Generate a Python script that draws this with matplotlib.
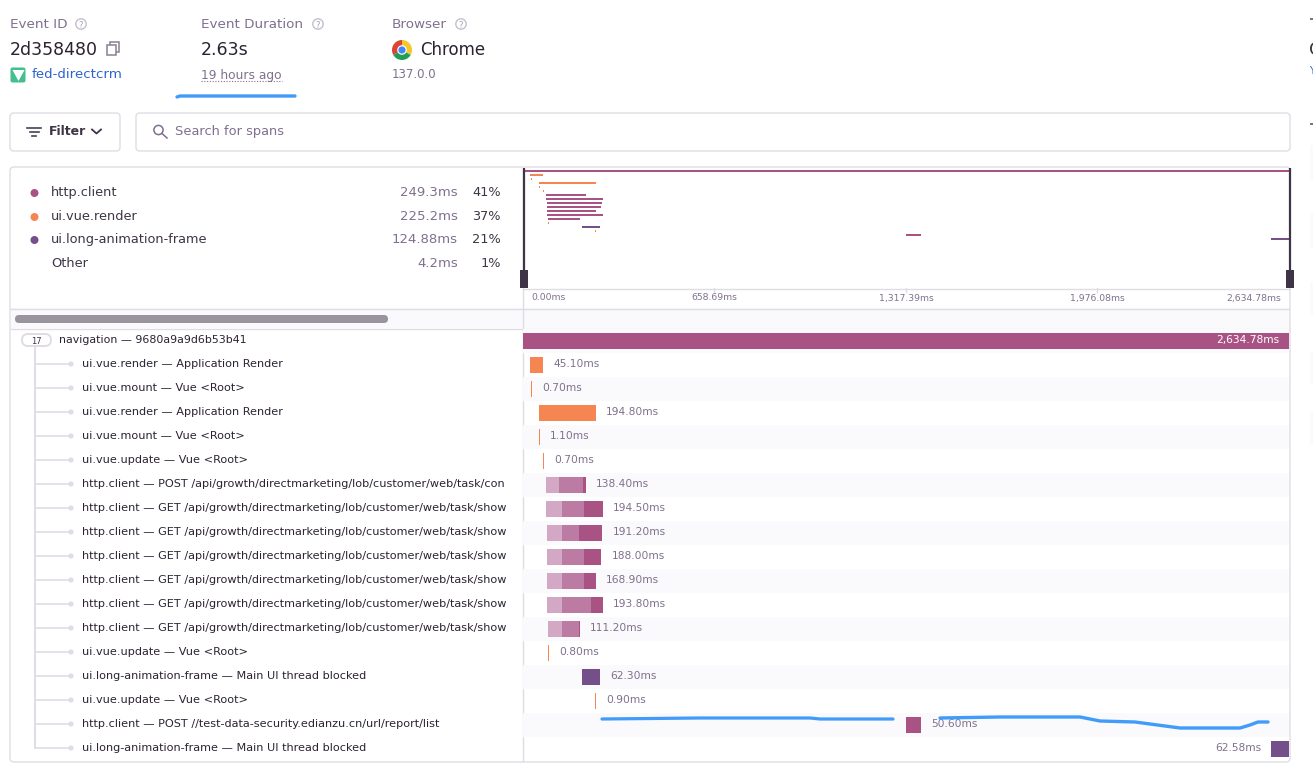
import matplotlib
matplotlib.use("Agg")
import matplotlib.pyplot as plt
from matplotlib.patches import FancyBboxPatch, Rectangle, Circle, Wedge, Polygon

W, H = 1313, 773
TOTAL_MS = 2634.78

# ---- data ----
breakdown_names = ["http.client", "ui.vue.render", "ui.long-animation-frame", "Other"]
breakdown_times = ["249.3ms", "225.2ms", "124.88ms", "4.2ms"]
breakdown_pcts = ["41%", "37%", "21%", "1%"]

span_labels = [
    "ui.vue.render — Application Render",
    "ui.vue.mount — Vue <Root>",
    "ui.vue.render — Application Render",
    "ui.vue.mount — Vue <Root>",
    "ui.vue.update — Vue <Root>",
    "http.client — POST /api/growth/directmarketing/lob/customer/web/task/con",
    "http.client — GET /api/growth/directmarketing/lob/customer/web/task/show",
    "http.client — GET /api/growth/directmarketing/lob/customer/web/task/show",
    "http.client — GET /api/growth/directmarketing/lob/customer/web/task/show",
    "http.client — GET /api/growth/directmarketing/lob/customer/web/task/show",
    "http.client — GET /api/growth/directmarketing/lob/customer/web/task/show",
    "http.client — GET /api/growth/directmarketing/lob/customer/web/task/show",
    "ui.vue.update — Vue <Root>",
    "ui.long-animation-frame — Main UI thread blocked",
    "ui.vue.update — Vue <Root>",
    "http.client — POST //test-data-security.edianzu.cn/url/report/list",
    "ui.long-animation-frame — Main UI thread blocked",
]
span_ops = ["r", "r", "r", "r", "r", "h", "h", "h", "h", "h", "h", "h", "r", "l", "r", "h", "l"]
span_starts = [24, 28, 55, 55, 69, 79, 79, 82, 82, 82, 82, 86, 86, 203, 248, 1317.5, 2572.2]
span_durs = [45.10, 0.70, 194.80, 1.10, 0.70, 138.40, 194.50, 191.20, 188.00, 168.90, 193.80,
             111.20, 0.80, 62.30, 0.90, 50.60, 62.58]
span_light = [0, 0, 0, 0, 0, 45, 55, 52, 52, 52, 52, 48, 0, 0, 0, 0, 0]
span_mid = [0, 0, 0, 0, 0, 82, 76, 58, 76, 76, 100, 58, 0, 0, 0, 0, 0]

axis_ticks = [0.0, 658.69, 1317.39, 1976.08, 2634.78]
axis_labels = ["0.00ms", "658.69ms", "1,317.39ms", "1,976.08ms", "2,634.78ms"]

stroke1_x = [177, 180, 295]
stroke1_y = [97, 96, 96]
stroke2_x = [602, 700, 810, 820, 893]
stroke2_y = [719, 718, 718, 719, 719]
stroke3_x = [940, 1000, 1080, 1090, 1100, 1135, 1180, 1240, 1250, 1258, 1268]
stroke3_y = [718, 717, 717, 719, 721, 722, 728, 728, 725, 722, 722]

# ---- colours ----
PINK, ORANGE, PURPLE = "#a95385", "#f58651", "#754f8a"
PINK_MID, PINK_LIGHT = "#bc7ba2", "#d3a8c4"
INK, MUTED, LINE, TINT = "#2b2233", "#80708f", "#e0dce5", "#faf9fb"
DARK = "#3e3446"
BLUE = "#409cf8"
op_color = {"r": ORANGE, "h": PINK, "l": PURPLE}
plt.rcParams["font.family"] = ["DejaVu Sans"]

fig = plt.figure(figsize=(W / 100, H / 100), dpi=100, facecolor="white")


def sub_axes(x0, y0, x1, y1, **kw):
    ax = fig.add_axes([x0 / W, 1 - y1 / H, (x1 - x0) / W, (y1 - y0) / H], **kw)
    ax.axis("off")
    ax.patch.set_alpha(0)
    return ax


# page layer in screen pixels
pg = sub_axes(0, 0, W, H)
pg.set_xlim(0, W)
pg.set_ylim(H, 0)


def T(x, y, s, size=8.3, color=INK, ha="left", weight="normal", zorder=6, ax=pg):
    return ax.text(x, y - 1, s, fontsize=size, color=color, ha=ha, va="center_baseline",
                   fontweight=weight, zorder=zorder)


def round_box(x0, y0, x1, y1, r=4, ec=LINE, fc="white", lw=1.0, z=1):
    pg.add_patch(FancyBboxPatch((x0 + r, y0 + r), x1 - x0 - 2 * r, y1 - y0 - 2 * r,
                                boxstyle=f"round,pad={r},rounding_size={r}",
                                ec=ec, fc=fc, lw=lw, zorder=z))


def help_icon(cx, cy):
    pg.add_patch(Circle((cx, cy), 5.2, fc="white", ec="#c5bfcd", lw=1.0, zorder=5))
    T(cx, cy + 1, "?", size=6, color="#a89fb3", ha="center")


# ---- header ----
T(10, 23.5, "Event ID", size=9.7, color=MUTED)
help_icon(81, 24)
T(10, 49, "2d358480", size=12.5, color=INK)
pg.add_patch(Rectangle((110, 42), 9, 10, fc="white", ec="#8a7f96", lw=1.1, zorder=5))
pg.add_patch(Rectangle((107, 45), 9, 9.5, fc="white", ec="#8a7f96", lw=1.1, zorder=5))
pg.add_patch(FancyBboxPatch((11.5, 68.5), 13, 13, boxstyle="round,pad=1,rounding_size=2",
                            fc="#41c08e", ec="none", zorder=5))
pg.add_patch(Polygon([[12.5, 70], [24.5, 70], [18.5, 81]], fc="white", ec="none", zorder=6))
T(32, 73.5, "fed-directcrm", size=9.6, color="#2f62d0")

T(201, 23.5, "Event Duration", size=9.7, color=MUTED)
help_icon(318, 24)
T(201, 49, "2.63s", size=12.5, color=INK)
T(201, 74.5, "19 hours ago", size=8.8, color=MUTED)
pg.plot([201, 282], [81, 81], color=MUTED, lw=0.8, ls=(0, (1, 1.5)), zorder=5)

T(392, 23.5, "Browser", size=9.7, color=MUTED)
help_icon(461, 24)
cx, cy = 402, 50
for a0, a1, c in [(-30, 90, "#f7c52c"), (90, 210, "#db4437"), (210, 330, "#1f9e55")]:
    pg.add_patch(Wedge((cx, cy), 10, -a1, -a0, fc=c, ec="none", zorder=5))
pg.add_patch(Circle((cx, cy), 4.8, fc="white", ec="none", zorder=6))
pg.add_patch(Circle((cx, cy), 3.6, fc="#4285f4", ec="none", zorder=7))
T(420, 49, "Chrome", size=12.0, color=INK)
T(392, 74.5, "137.0.0", size=8.5, color=MUTED)

# cropped neighbouring column at the right edge
pg.add_patch(Rectangle((1310, 18), 3, 2, fc=MUTED, ec="none"))
T(1308.5, 49, "C", size=13, color=DARK)
T(1309.5, 71, "Y", size=7, color="#2f62d0")
pg.add_patch(Rectangle((1310, 123), 3, 2, fc=MUTED, ec="none"))
for y0, y1 in [(145, 180), (213, 248), (282, 315), (352, 384), (412, 445)]:
    pg.add_patch(Rectangle((1310, y0), 3, y1 - y0, fc="#fafafa", ec="none"))

# ---- filter bar ----
round_box(10, 113, 120, 151)
for xa, xb, yy in [(27, 41, 127.5), (29.5, 38.5, 131.5), (32, 36, 135.5)]:
    pg.plot([xa, xb], [yy, yy], color="#4a4155", lw=1.2, zorder=5)
T(49, 131, "Filter", size=9.0, color="#3e3446", weight="bold")
pg.plot([92, 96.5, 101], [129.5, 133.5, 129.5], color="#3e3446", lw=1.3, zorder=5)
round_box(136, 113, 1290, 151)
pg.add_patch(Circle((158.5, 130), 4.6, fc="none", ec=MUTED, lw=1.1, zorder=5))
pg.plot([162, 167], [133.5, 138], color=MUTED, lw=1.1, zorder=5)
T(175, 131, "Search for spans", size=9.4, color=MUTED)

# ---- main panel ----
round_box(10, 167, 1290, 762)
pg.add_patch(Rectangle((11, 308), 1278, 20, fc=TINT, ec="none", zorder=1.5))
pg.plot([11, 1289], [308.5, 308.5], color=LINE, lw=1, zorder=2)
pg.plot([11, 1289], [328.5, 328.5], color=LINE, lw=1, zorder=2)
pg.plot([523, 1289], [288.5, 288.5], color=LINE, lw=1, zorder=2)
pg.plot([522.5, 522.5], [168, 761], color=LINE, lw=1, zorder=2)
pg.add_patch(FancyBboxPatch((15, 315), 373, 8, boxstyle="round,pad=0,rounding_size=4",
                            fc="#9a949f", ec="none", zorder=3))

# breakdown
rows_y = [192, 216, 239, 263]
dot_cols = [PINK, ORANGE, PURPLE, None]
for y, n, t, p, c in zip(rows_y, breakdown_names, breakdown_times, breakdown_pcts, dot_cols):
    if c:
        pg.add_patch(Circle((34.5, y + 1), 4, fc=c, ec="none", zorder=5))
    T(51, y, n, size=9.3, color="#3e3446")
    T(458, y, t, size=9.5, color=MUTED, ha="right")
    T(501, y, p, size=9.3, color="#3e3446", ha="right")

# ---- minimap axes, driven by the same span data ----
mm = sub_axes(523, 169, 1289, 241)
mm.set_xlim(0, TOTAL_MS)
mm.set_ylim(18, 0)
mm.barh(0.5, TOTAL_MS, left=0, height=0.5, color=PINK)
for i, (s, d, o) in enumerate(zip(span_starts, span_durs, span_ops)):
    mm.barh(i + 1.5, max(d, 3.4), left=s, height=0.5, color=op_color[o])

# time axis
ta = sub_axes(523, 288, 1289, 308)
ta.set_xlim(0, TOTAL_MS)
ta.set_ylim(1, 0)
for v, lab in zip(axis_ticks, axis_labels):
    if v == axis_ticks[0]:
        ta.annotate(lab, (v, 0.5), xytext=(8, 1), textcoords="offset pixels", ha="left",
                    va="center_baseline", fontsize=6.7, color=MUTED)
    elif v == axis_ticks[-1]:
        ta.annotate(lab, (v, 0.5), xytext=(-8, 1), textcoords="offset pixels", ha="right",
                    va="center_baseline", fontsize=6.7, color=MUTED)
    else:
        ta.annotate(lab, (v, 0.5), xytext=(0, 1), textcoords="offset pixels", ha="center",
                    va="center_baseline", fontsize=6.7, color=MUTED)
        ta.plot([v, v], [0, 0.2], color=LINE, lw=1)

# ---- waterfall ----
wf = sub_axes(523, 329, 1289, 761)
wf.set_xlim(0, TOTAL_MS)
wf.set_ylim(18, 0)
BAR_H = 16 / 24
for r in range(0, 18, 2):
    wf.barh(r + 0.5, TOTAL_MS, left=0, height=1, color=TINT, zorder=1)
wf.barh(0.5, TOTAL_MS, left=0, height=BAR_H, color=PINK, zorder=2)
wf.annotate("2,634.78ms", (TOTAL_MS, 0.46), xytext=(-10, 1), textcoords="offset pixels",
            ha="right", va="center_baseline", color="white", fontsize=7.7, zorder=3)

for i, (s, d, o, a, b) in enumerate(zip(span_starts, span_durs, span_ops, span_light, span_mid)):
    y = i + 1.5
    if o == "h" and a > 0:
        wf.barh(y, a, left=s, height=BAR_H, color=PINK_LIGHT, zorder=2)
        wf.barh(y, b, left=s + a, height=BAR_H, color=PINK_MID, zorder=2)
        wf.barh(y, d - a - b, left=s + a + b, height=BAR_H, color=PINK, zorder=2)
    else:
        wf.barh(y, max(d, 3.4), left=s, height=BAR_H, color=op_color[o], zorder=2)
    lab = f"{d:.2f}ms"
    if s > TOTAL_MS * 0.75:
        wf.annotate(lab, (s, y - 0.04), xytext=(-9, 1), textcoords="offset pixels", ha="right",
                    va="center_baseline", color=MUTED, fontsize=7.7, zorder=3)
    else:
        wf.annotate(lab, (s + max(d, 3.4), y - 0.04), xytext=(10, 1), textcoords="offset pixels",
                    ha="left", va="center_baseline", color=MUTED, fontsize=7.7, zorder=3)

# ---- tree + span names ----
tree_x = 35
pg.plot([tree_x, tree_x], [347, 748], color=LINE, lw=1.4, zorder=3, solid_capstyle="round")
pg.add_patch(FancyBboxPatch((24, 336), 25, 8, boxstyle="round,pad=2,rounding_size=6",
                            fc="white", ec=LINE, lw=1.4, zorder=4))
T(36.5, 341, "17", size=6.0, color="#3e3446", ha="center")
T(59, 340, "navigation — 9680a9a9d6b53b41", size=7.95, color=INK)
for i, lab in enumerate(span_labels):
    y = 364 + 24 * i
    pg.plot([tree_x, 69], [y, y], color=LINE, lw=1.2, zorder=3)
    pg.add_patch(Circle((71, y), 2.6, fc=LINE, ec="none", zorder=4))
    t = T(82, y, lab, size=8.1, color=INK)
    t.set_clip_path(Rectangle((0, 0), 522, H, transform=pg.transData))

# ---- overlay: range handles and blue hand strokes above everything ----
ov = sub_axes(0, 0, W, H)
ov.set_xlim(0, W)
ov.set_ylim(H, 0)
for xl, (bx0, bx1) in [(524, (520, 528)), (1290, (1286, 1294))]:
    ov.plot([xl, xl], [168, 272], color=DARK, lw=1.6, solid_capstyle="butt")
    ov.add_patch(Rectangle((bx0, 270), bx1 - bx0, 18, fc=DARK, ec="none"))
for xs, ys, lw in [(stroke1_x, stroke1_y, 2.4), (stroke2_x, stroke2_y, 2.3), (stroke3_x, stroke3_y, 2.4)]:
    ov.plot(xs, ys, color=BLUE, lw=lw, solid_capstyle="round", solid_joinstyle="round")

fig.savefig("out.png", dpi=100, facecolor="white")
